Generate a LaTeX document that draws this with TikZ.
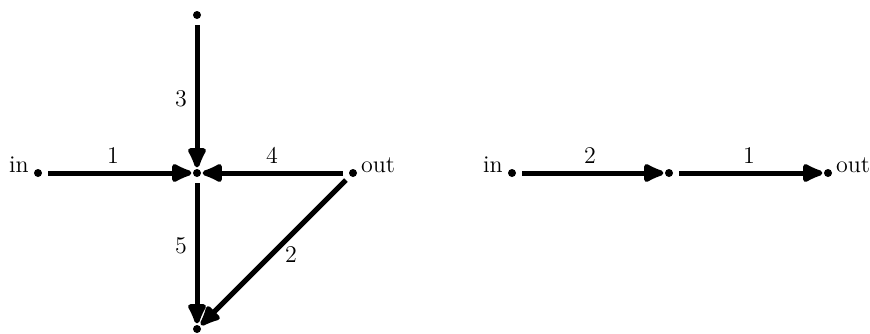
\documentclass[tikz,border=0pt]{standalone}
\usetikzlibrary{arrows.meta}
\begin{document}
\begin{tikzpicture}[x=0.5pt,y=-0.5pt,
 vtx/.style={circle,fill,inner sep=0pt,minimum size=4pt,outer sep=0.8pt},
 conn/.style={line width=2.5pt,shorten <=2.2pt,-{Latex[length=13pt,width=11pt,round]}},
 lbl/.style={font=\fontsize{12}{14}\selectfont,inner sep=0pt,anchor=base}]
\useasboundingbox (0,0) rectangle (870,333);
% left graph
\node[vtx] (t) at (197,15) {};
\node[vtx] (c) at (197,173) {};
\node[vtx] (i) at (38,173) {};
\node[vtx] (o) at (353,173) {};
\node[vtx] (b) at (197,329) {};
\node[lbl] (iL) at (19,172) {in};
\node[lbl] (oL) at (378,172) {out};
\draw[conn] (i) -- (c);
\draw[conn] (t) -- (c);
\draw[conn] (o) -- (c);
\draw[conn] (c) -- (b);
\draw[conn] (o) -- (b);
\node[lbl] (l1) at (113,163) {1};
\node[lbl] (l3) at (181,106) {3};
\node[lbl] (l4) at (272,163) {4};
\node[lbl] (l5) at (181,253) {5};
\node[lbl] (l2) at (291,262) {2};
% right graph
\node[vtx] (ri) at (512,173) {};
\node[vtx] (rm) at (669,173) {};
\node[vtx] (ro) at (828,173) {};
\node[lbl] (riL) at (493,172) {in};
\node[lbl] (roL) at (853,172) {out};
\draw[conn] (ri) -- (rm);
\draw[conn] (rm) -- (ro);
\node[lbl] (r2) at (590,163) {2};
\node[lbl] (r1) at (749,163) {1};
\end{tikzpicture}
\end{document}
